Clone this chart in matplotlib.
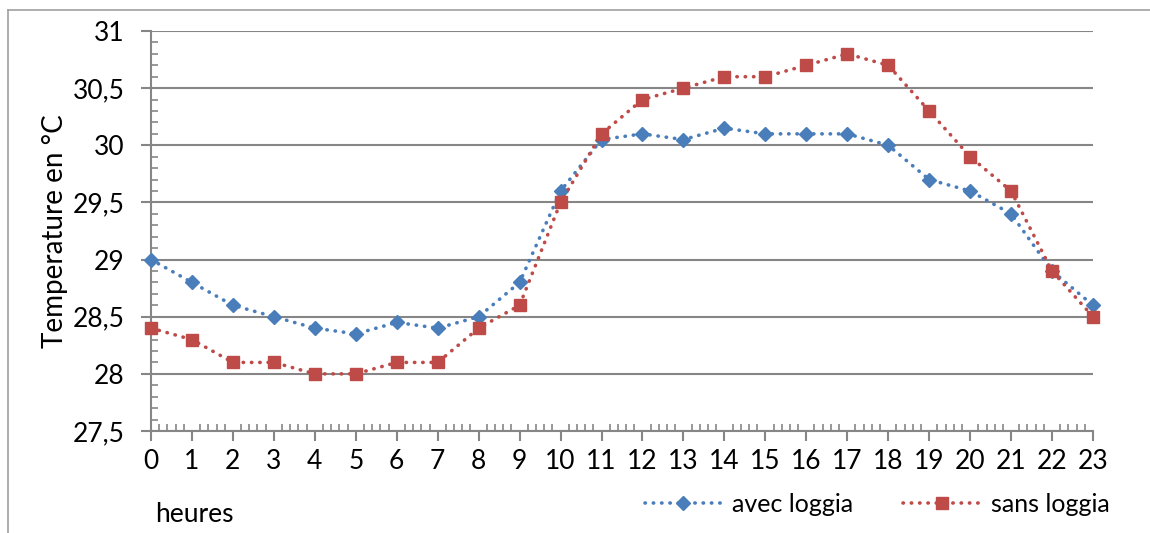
import matplotlib
matplotlib.use('Agg')
import matplotlib.pyplot as plt
from matplotlib.ticker import MultipleLocator
import matplotlib.lines as mlines

plt.rcParams['font.family'] = ['Lato', 'DejaVu Sans']

hours = list(range(24))
avec_loggia = [29.0, 28.8, 28.6, 28.5, 28.4, 28.35, 28.45, 28.4, 28.5, 28.8,
               29.6, 30.05, 30.1, 30.05, 30.15, 30.1, 30.1, 30.1, 30.0, 29.7,
               29.6, 29.4, 28.9, 28.6]
sans_loggia = [28.4, 28.3, 28.1, 28.1, 28.0, 28.0, 28.1, 28.1, 28.4, 28.6,
               29.5, 30.1, 30.4, 30.5, 30.6, 30.6, 30.7, 30.8, 30.7, 30.3,
               29.9, 29.6, 28.9, 28.5]
y_ticks = [27.5, 28, 28.5, 29, 29.5, 30, 30.5, 31]
y_tick_labels = ["27,5", "28", "28,5", "29", "29,5", "30", "30,5", "31"]

BLUE = "#4A7EBB"
RED = "#BE4B48"
GRID = "#868686"

fig = plt.figure(figsize=(11.5, 5.33), dpi=100)
ax = fig.add_axes([151 / 1150, 1 - 431 / 533, 942 / 1150, 400 / 533])

# cadre extérieur
fig.add_artist(mlines.Line2D([8 / 1150, 8 / 1150], [0, 1 - 10 / 533],
                             transform=fig.transFigure, color="#a0a0a0", lw=1.2))
fig.add_artist(mlines.Line2D([8 / 1150, 1], [1 - 10 / 533, 1 - 10 / 533],
                             transform=fig.transFigure, color="#a0a0a0", lw=1.2))

ax.plot(hours, avec_loggia, color=BLUE, linestyle=(0, (0.1, 2.2)), lw=2.6,
        dash_capstyle='round', marker='D', markersize=7.5,
        markerfacecolor=BLUE, markeredgecolor=BLUE, label="avec loggia",
        zorder=3, clip_on=False)
ax.plot(hours, sans_loggia, color=RED, linestyle=(0, (0.1, 2.2)), lw=2.6,
        dash_capstyle='round', marker='s', markersize=9,
        markerfacecolor=RED, markeredgecolor=RED, label="sans loggia",
        zorder=4, clip_on=False)

ax.set_xlim(0, 23)
ax.set_ylim(27.5, 31)
ax.set_xticks(hours)
ax.set_xticklabels([str(h) for h in hours])
ax.set_yticks(y_ticks)
ax.set_yticklabels(y_tick_labels)
ax.xaxis.set_minor_locator(MultipleLocator(0.2))
ax.yaxis.set_minor_locator(MultipleLocator(0.1))

ax.grid(axis='y', which='major', color=GRID, lw=1.5)
ax.set_axisbelow(True)
for side in ['top', 'right']:
    ax.spines[side].set_visible(False)
for side in ['left', 'bottom']:
    ax.spines[side].set_color(GRID)
    ax.spines[side].set_linewidth(1.5)

ax.tick_params(axis='both', which='major', direction='out', length=7,
               width=1.5, color=GRID, labelsize=19)
ax.tick_params(axis='both', which='minor', direction='in', length=5,
               width=1.2, color=GRID)
ax.tick_params(axis='y', which='major', pad=12)
ax.tick_params(axis='x', which='major', pad=6)

ax.set_ylabel("Temperature en °C", fontsize=20)
ax.yaxis.set_label_coords(-0.088, 0.5)
ax.set_xlabel("heures", fontsize=19, ha='left', va='center')
ax.xaxis.set_label_coords(0.004, -0.21)

ax.legend(loc='center', bbox_to_anchor=(877 / 1150, 1 - 504 / 533),
          bbox_transform=fig.transFigure, ncol=2, frameon=False,
          fontsize=18, handlelength=3.1, columnspacing=2.0, handletextpad=0.4)

fig.savefig("out.png", dpi=100)
